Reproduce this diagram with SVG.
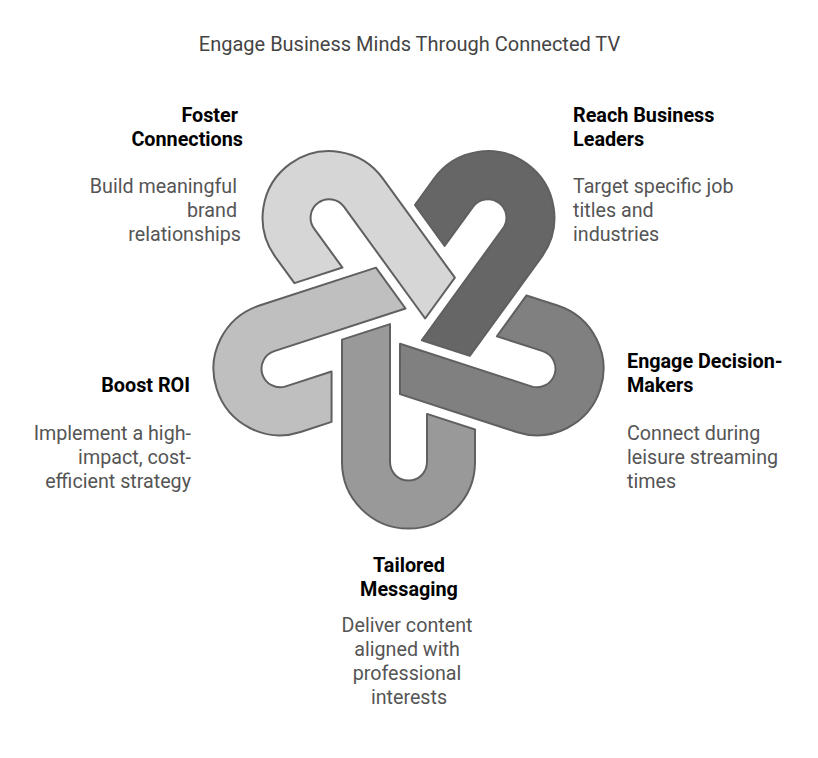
<svg xmlns="http://www.w3.org/2000/svg" width="818" height="758" viewBox="0 0 818 758">
  <defs>
    <style>
      .hook { stroke: #606060; stroke-width: 2; stroke-linejoin: round; }
      .title { font-family: Roboto, "Liberation Sans", sans-serif; font-size: 20px; fill: #444444; }
      .head { font-family: Roboto, "Liberation Sans", sans-serif; font-size: 19.8px; font-weight: bold; fill: #000000; }
      .desc { font-family: Roboto, "Liberation Sans", sans-serif; font-size: 19.7px; fill: #555555; }
    </style>
    <path id="hookShape" d="M 342,339.65 L 390,324.1 L 390,462.1 A 18.5 18.5 0 0 0 427,462.1 L 427,413.9 L 475,429.5 L 475,462.1 A 66.5 66.5 0 0 1 342,462.1 Z"/>
  </defs>
  <rect width="818" height="758" fill="#ffffff"/>
  <text class="title" x="409.5" y="51" text-anchor="middle">Engage Business Minds Through Connected TV</text>

  <g id="connectors"></g>

  <g id="foster-connections">
    <use href="#hookShape" class="hook" fill="#d6d6d6" transform="rotate(144 408.5 327)"/>
    <text class="head" x="243" y="122" text-anchor="end"><tspan x="238">Foster</tspan><tspan x="243" dy="24">Connections</tspan></text>
    <text class="desc" x="240" y="193" text-anchor="end"><tspan x="237">Build meaningful</tspan><tspan x="237" dy="24">brand</tspan><tspan x="241" dy="24">relationships</tspan></text>
  </g>

  <g id="reach-business-leaders">
    <use href="#hookShape" class="hook" fill="#666666" transform="rotate(216 408.5 327)"/>
    <text class="head" x="573" y="122"><tspan x="573">Reach Business</tspan><tspan x="573" dy="24">Leaders</tspan></text>
    <text class="desc" x="573" y="193"><tspan x="573">Target specific job</tspan><tspan x="573" dy="24">titles and</tspan><tspan x="573" dy="24">industries</tspan></text>
  </g>

  <g id="engage-decision-makers">
    <use href="#hookShape" class="hook" fill="#808080" transform="rotate(288 408.5 327)"/>
    <text class="head" x="627" y="368"><tspan x="627">Engage Decision-</tspan><tspan x="627" dy="24">Makers</tspan></text>
    <text class="desc" x="627" y="440"><tspan x="627">Connect during</tspan><tspan x="627" dy="24">leisure streaming</tspan><tspan x="627" dy="24">times</tspan></text>
  </g>

  <g id="tailored-messaging">
    <use href="#hookShape" class="hook" fill="#999999"/>
    <text class="head" x="409" y="572" text-anchor="middle"><tspan x="409">Tailored</tspan><tspan x="409" dy="24">Messaging</tspan></text>
    <text class="desc" x="407" y="632" text-anchor="middle"><tspan x="407">Deliver content</tspan><tspan x="407" dy="24">aligned with</tspan><tspan x="407" dy="24">professional</tspan><tspan x="409" dy="24">interests</tspan></text>
  </g>

  <g id="boost-roi">
    <use href="#hookShape" class="hook" fill="#bfbfbf" transform="rotate(72 408.5 327)"/>
    <text class="head" x="190" y="392" text-anchor="end">Boost ROI</text>
    <text class="desc" x="191" y="440" text-anchor="end"><tspan x="191">Implement a high-</tspan><tspan x="191" dy="24">impact, cost-</tspan><tspan x="191" dy="24">efficient strategy</tspan></text>
  </g>
</svg>
